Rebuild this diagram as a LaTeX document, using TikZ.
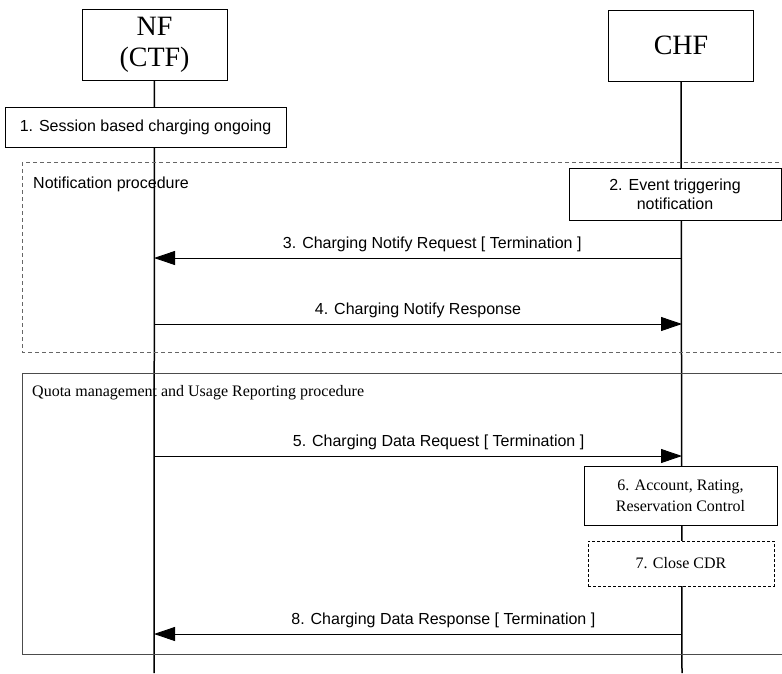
\documentclass[tikz,border=0pt]{standalone}
\usepackage{fontspec}
\setmainfont{Liberation Serif}
\setsansfont{Liberation Sans}
\usetikzlibrary{arrows.meta}

\begin{document}
\begin{tikzpicture}[x=1pt, y=-1pt,
  entity/.style = {draw, fill=white, line width=0.8pt, inner sep=0pt, align=center,
    minimum width=145pt, minimum height=71pt, font=\fontsize{28}{31}\selectfont},
  stepbox/.style = {draw, fill=white, line width=0.8pt, inner sep=0pt, align=center,
    font=\sffamily\fontsize{16}{19}\selectfont},
  actbox/.style = {draw, fill=white, line width=0.8pt, inner sep=0pt, align=center,
    font=\fontsize{16}{21}\selectfont},
  frame/.style = {draw=black!70, line width=0.8pt},
  life/.style = {line width=1.5pt},
  msg/.style = {line width=0.9pt, -{Triangle[length=21pt, width=14pt]}},
  lbl/.style = {font=\sffamily\fontsize{16}{19}\selectfont, above, yshift=2.5pt}]
\useasboundingbox (0,0) rectangle (782,673);

% lifelines
\node[entity] (nf) at (154.5,45) {NF\\(CTF)};
\node[entity] (chf) at (681,45.5) {CHF};
\coordinate (nfend) at (154,673);
\coordinate (chfend) at (682,673);
\draw[life] (nf) -- (nfend);
\draw[life] (chf) -- (chfend);

\node[stepbox, minimum width=281pt, minimum height=40pt] (s1) at (145.5,127) {1. Session based charging ongoing};

% notification procedure
\draw[frame, draw=black!60, dash pattern=on 4pt off 3pt] (22,162) rectangle (795,352);
\node[anchor=west, font=\sffamily\fontsize{16}{19}\selectfont, inner sep=0pt] (ntitle) at (33,184) {Notification procedure};
\node[stepbox, minimum width=212pt, minimum height=52pt] (s2) at (675,194) {2. Event triggering\\notification};

\coordinate (c3) at (682,258);
\coordinate (n3) at (154,258);
\draw[msg] (c3) -- node[lbl, pos=0.473] {3. Charging Notify Request [ Termination ]} (n3);
\coordinate (n4) at (154,324);
\coordinate (c4) at (682,324);
\draw[msg] (n4) -- node[lbl] {4. Charging Notify Response} (c4);

% quota management
\draw[frame] (22,373) rectangle (795,654);
\node[anchor=west, font=\fontsize{16}{19}\selectfont, inner sep=0pt] (qtitle) at (32,393) {Quota management and Usage Reporting procedure};

\coordinate (n5) at (154,456);
\coordinate (c5) at (682,456);
\draw[msg] (n5) -- node[lbl, pos=0.539] {5. Charging Data Request [ Termination ]} (c5);
\node[actbox, minimum width=193pt, minimum height=59pt] (s6) at (680.5,495.5) {6. Account, Rating,\\Reservation Control};
\node[actbox, dash pattern=on 3pt off 2pt, minimum width=186pt, minimum height=45pt] (s7) at (681,563.5) {7. Close CDR};
\coordinate (c8) at (682,634);
\coordinate (n8) at (154,634);
\draw[msg] (c8) -- node[lbl, pos=0.452] {8. Charging Data Response [ Termination ]} (n8);
\end{tikzpicture}
\end{document}
